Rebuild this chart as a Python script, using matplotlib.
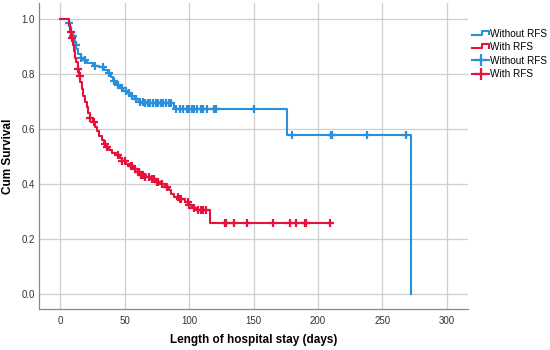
import numpy as np
import matplotlib
matplotlib.use("Agg")
import matplotlib.pyplot as plt
from matplotlib.lines import Line2D
from matplotlib.legend_handler import HandlerBase

# Kaplan-Meier steps: (event time, survival after it)
groups = ["Without RFS", "With RFS"]

no_rfs_t = [0, 6.5, 7.5, 8.5, 9.5, 10.5, 11.5, 12.5, 14, 16, 18, 21, 25, 30, 34, 37,
            39, 41, 43, 46, 49, 52, 55, 58, 61, 65, 88, 176, 272]
no_rfs_s = [1.0, 0.985, 0.97, 0.955, 0.94, 0.925, 0.905, 0.89, 0.875, 0.86, 0.85, 0.84,
            0.83, 0.825, 0.815, 0.805, 0.79, 0.775, 0.76, 0.75, 0.74, 0.73, 0.72, 0.71,
            0.70, 0.695, 0.675, 0.578, 0.0]
no_rfs_cens = [7, 10, 12, 16, 19, 27, 33, 38, 42, 45, 48, 51, 53, 56, 59, 62, 64, 66,
               68, 70, 72, 74, 76, 78, 80, 82, 84, 86, 90, 93, 95, 98, 100, 102, 104,
               106, 109, 111, 114, 119, 120, 121, 150, 180, 210, 211, 238, 268]

rfs_t = [0, 6.5, 7.5, 8.5, 9.5, 10.5, 11.5, 12.5, 13.5, 14.5, 15.5, 17, 18, 19.5, 20.5,
         21.5, 23, 25, 27, 28.5, 30, 32, 34, 36, 38, 40, 43, 46, 48, 51, 54, 57, 60,
         63, 66, 70, 74, 78, 81, 84, 86, 88, 92, 97, 100, 102, 105, 116]
rfs_s = [1.0, 0.98, 0.955, 0.93, 0.905, 0.885, 0.86, 0.845, 0.82, 0.795, 0.77, 0.745,
         0.72, 0.70, 0.68, 0.66, 0.64, 0.625, 0.61, 0.595, 0.575, 0.56, 0.545, 0.535,
         0.525, 0.515, 0.505, 0.495, 0.485, 0.475, 0.465, 0.455, 0.445, 0.435, 0.428,
         0.42, 0.41, 0.40, 0.39, 0.38, 0.365, 0.355, 0.345, 0.335, 0.325, 0.315, 0.305,
         0.258]
rfs_cens = [8, 9, 14, 15, 23, 26, 35, 36, 45, 48, 50, 55, 56, 58, 60, 61, 63, 64, 66,
            69, 71, 73, 75, 76, 79, 83, 91, 93, 94, 99, 100, 104, 107, 109, 111, 113,
            128, 129, 135, 145, 165, 178, 183, 190, 191, 209]

x_ticks = [0, 50, 100, 150, 200, 250, 300]
y_ticks = [0.0, 0.2, 0.4, 0.6, 0.8, 1.0]

BLUE = "#2b90dc"
RED = "#e5123c"


class StepHandler(HandlerBase):
    def create_artists(self, legend, orig_handle, xdescent, ydescent, width, height,
                       fontsize, trans):
        x0, y0 = -xdescent, -ydescent
        xs = [x0, x0 + 0.6 * width, x0 + 0.6 * width, x0 + width, x0 + width]
        ys = [y0 + 0.25 * height, y0 + 0.25 * height, y0 + 0.85 * height,
              y0 + 0.85 * height, y0 + 0.35 * height]
        line = Line2D(xs, ys, color=orig_handle.get_color(), lw=orig_handle.get_linewidth(),
                      transform=trans)
        return [line]


def surv_at(times, surv, t):
    idx = np.searchsorted(times, t, side="right") - 1
    return np.asarray(surv)[idx]


def main() -> None:
    plt.rcParams["font.family"] = ["Liberation Sans", "DejaVu Sans"]
    fig = plt.figure(figsize=(5.5, 3.5), dpi=100)
    ax = fig.add_axes([0.071, 0.117, 0.78, 0.874])

    for t, s, c, col in [(no_rfs_t, no_rfs_s, no_rfs_cens, BLUE),
                         (rfs_t, rfs_s, rfs_cens, RED)]:
        tt = list(t)
        ss = list(s)
        if c[-1] > tt[-1]:
            tt.append(c[-1])
            ss.append(ss[-1])
        ax.step(tt, ss, where="post", color=col, lw=1.5)
        ax.plot(c, surv_at(t, s, c), ls="none", marker="+", ms=6, mew=1.6, color=col)

    ax.set_xlim(-16.5, 316.5)
    ax.set_ylim(-0.053, 1.058)
    ax.set_xticks(x_ticks)
    ax.set_yticks(y_ticks)
    ax.set_yticklabels([f"{v:.1f}" for v in y_ticks])
    ax.grid(True, color="#cfcfcf", lw=0.9)
    ax.set_axisbelow(True)
    ax.tick_params(length=0, labelsize=7, colors="#333333")
    ax.tick_params(axis="x", pad=5)
    ax.tick_params(axis="y", pad=3)
    for side in ("top", "right"):
        ax.spines[side].set_visible(False)
    for side in ("left", "bottom"):
        ax.spines[side].set_color("#888888")
        ax.spines[side].set_linewidth(0.9)

    ax.set_xlabel("Length of hospital stay (days)", fontsize=8.5, fontweight="bold", labelpad=6)
    ax.set_ylabel("Cum Survival", fontsize=8.5, fontweight="bold", labelpad=5)

    step_b = Line2D([], [], color=BLUE, lw=1.5)
    step_r = Line2D([], [], color=RED, lw=1.5)
    cens_b = Line2D([], [], color=BLUE, lw=1.5, marker="+", ms=9, mew=1.6)
    cens_r = Line2D([], [], color=RED, lw=1.5, marker="+", ms=9, mew=1.6)
    ax.legend([step_b, step_r, cens_b, cens_r], groups + groups,
              handler_map={step_b: StepHandler(), step_r: StepHandler()},
              loc="upper left", bbox_to_anchor=(1.0, 0.93), frameon=False,
              fontsize=7.2, handlelength=1.7, handletextpad=0.1, labelspacing=0.35,
              borderaxespad=0.0)

    fig.savefig("out.png", dpi=100)
    plt.close(fig)


if __name__ == "__main__":
    main()
